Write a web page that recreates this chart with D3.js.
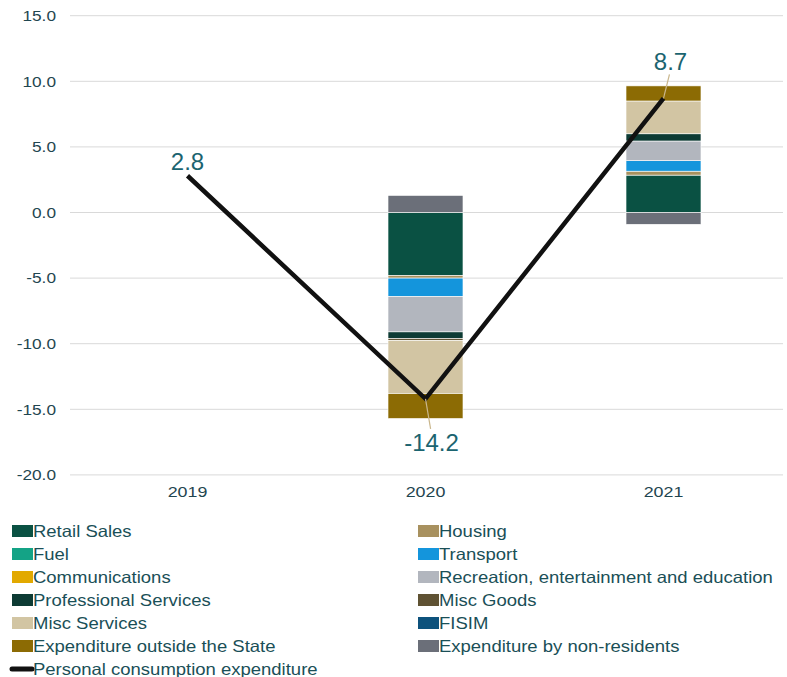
<!DOCTYPE html>
<html>
<head>
<meta charset="utf-8">
<script src="https://cdn.jsdelivr.net/npm/d3@7"></script>
<style>
  html, body { margin: 0; padding: 0; background: #fff; }
  svg { display: block; font-family: "Liberation Sans", Arial, sans-serif; }
</style>
</head>
<body>
<svg id="chart" width="787" height="677"></svg>
<script>
// Contributions to growth in personal consumption expenditure (percentage points)
const years = ["2019", "2020", "2021"];
const yTicks = [15, 10, 5, 0, -5, -10, -15, -20];

const retailSales        = [null, -4.8, 2.85];
const housing            = [null, -0.2, 0.3];
const fuel               = [null, 0, 0];
const transport          = [null, -1.4, 0.8];
const communications     = [null, 0, 0];
const recreation         = [null, -2.7, 1.5];
const professional       = [null, -0.5, 0.55];
const miscGoods          = [null, -0.15, 0];
const miscServices       = [null, -4.05, 2.5];
const fisim              = [null, 0, 0];
const outsideState       = [null, -1.9, 1.15];
const nonResidents       = [null, 1.3, -0.9];
const pce                = [2.8, -14.2, 8.7];

const seriesNames = [
  "Retail Sales", "Housing", "Fuel", "Transport", "Communications",
  "Recreation, entertainment and education", "Professional Services", "Misc Goods",
  "Misc Services", "FISIM", "Expenditure outside the State", "Expenditure by non-residents"
];
const seriesValues = [
  retailSales, housing, fuel, transport, communications, recreation,
  professional, miscGoods, miscServices, fisim, outsideState, nonResidents
];
const seriesColors = [
  "#0a5143", "#a8915f", "#14a386", "#1495dc", "#e2a900", "#b2b6be",
  "#0d3b34", "#5f5233", "#d2c5a3", "#0d527c", "#8c6b04", "#6b6f79"
];
const lineName = "Personal consumption expenditure";

const svg = d3.select("#chart");
const textColor = "#1f4650";

// one decimal, plain hyphen for negatives
const fmt = v => d3.format(".1f")(v).replace("\u2212", "-");

const x = d3.scaleBand().domain(years).range([68.5, 782.5]).padding(0);
const y = d3.scaleLinear().domain([-20, 15]).range([474.9, 15.7]);
const barWidth = x.bandwidth() * 0.315;
const cx = d => x(d) + x.bandwidth() / 2;

// slight horizontal stretch of the small text
function stretch(sel, k) {
  sel.each(function () {
    const w = this.getComputedTextLength();
    d3.select(this).attr("textLength", w * k).attr("lengthAdjust", "spacingAndGlyphs");
  });
}

// gridlines
svg.append("g")
  .selectAll("line")
  .data(yTicks)
  .join("line")
  .attr("x1", 70).attr("x2", 783)
  .attr("y1", d => y(d)).attr("y2", d => y(d))
  .attr("stroke", "#d9d9d9").attr("stroke-width", 1);

// y axis labels
const yAxis = svg.append("g")
  .attr("transform", "translate(56,0)")
  .call(d3.axisLeft(y).tickValues(yTicks).tickFormat(fmt).tickSize(0).tickPadding(0));
yAxis.select(".domain").remove();
yAxis.selectAll("text")
  .attr("fill", textColor).attr("font-size", 15).attr("font-family", "Liberation Sans, Arial, sans-serif")
  .call(stretch, 1.15);

// x axis labels
const xAxis = svg.append("g")
  .attr("transform", "translate(0,486)")
  .call(d3.axisBottom(x).tickSize(0).tickPadding(0));
xAxis.select(".domain").remove();
xAxis.selectAll("text")
  .attr("fill", textColor).attr("font-size", 15.5).attr("font-family", "Liberation Sans, Arial, sans-serif")
  .call(stretch, 1.15);

// stacked bars (positive and negative stacked separately)
const table = years.map((yr, i) => {
  const row = { year: yr };
  seriesNames.forEach((n, j) => { row[n] = seriesValues[j][i] || 0; });
  return row;
});
const stack = d3.stack()
  .keys(seriesNames)
  .order(d3.stackOrderNone)
  .offset(d3.stackOffsetDiverging);
const stacked = stack(table);

svg.append("g")
  .selectAll("g")
  .data(stacked)
  .join("g")
  .attr("fill", (d, i) => seriesColors[i])
  .selectAll("rect")
  .data(d => d.filter(p => p[1] - p[0] !== 0))
  .join("rect")
  .attr("x", d => cx(d.data.year) - barWidth / 2)
  .attr("width", barWidth)
  .attr("y", d => y(Math.max(d[0], d[1])))
  .attr("height", d => Math.abs(y(d[0]) - y(d[1])))
  .attr("stroke", "#ffffff").attr("stroke-width", 0.6);

// line series
const pts = years.map((yr, i) => ({ year: yr, v: pce[i] }));
svg.append("path")
  .datum(pts)
  .attr("fill", "none")
  .attr("stroke", "#111111")
  .attr("stroke-width", 4.5)
  .attr("stroke-linejoin", "miter")
  .attr("d", d3.line().x(d => cx(d.year)).y(d => y(d.v)));

// value labels with leader lines
const labelOffsets = [
  { dx: 0, dy: -6, leader: false },
  { dx: 6, dy: 52, leader: true },
  { dx: 7, dy: -28, leader: true }
];
pts.forEach((p, i) => {
  const o = labelOffsets[i];
  const px = cx(p.year), py = y(p.v);
  if (o.leader) {
    const sign = o.dy > 0 ? 1 : -1;
    svg.append("line")
      .attr("x1", px).attr("y1", py)
      .attr("x2", px + o.dx * 0.85).attr("y2", py + o.dy - (sign > 0 ? 22 : -4))
      .attr("stroke", "#c9b68c").attr("stroke-width", 1.2);
  }
  svg.append("text")
    .attr("x", px + o.dx).attr("y", py + o.dy)
    .attr("text-anchor", "middle")
    .attr("font-size", 24)
    .attr("fill", "#1b6470")
    .text(fmt(p.v));
});

// legend: two columns, row-major order
const legendItems = seriesNames.map((n, i) => ({ name: n, color: seriesColors[i], type: "bar" }));
legendItems.push({ name: lineName, color: "#111111", type: "line" });
const lg = svg.append("g");
const items = lg.selectAll("g")
  .data(legendItems)
  .join("g")
  .attr("transform", (d, i) => {
    const col = d.type === "line" ? 0 : i % 2;
    const row = d.type === "line" ? 6 : Math.floor(i / 2);
    return `translate(${col === 0 ? 12 : 418},${531 + row * 23})`;
  });
items.filter(d => d.type === "bar").append("rect")
  .attr("x", 0).attr("y", -6).attr("width", 21).attr("height", 12)
  .attr("fill", d => d.color);
items.filter(d => d.type === "line").append("line")
  .attr("x1", 0).attr("x2", 20).attr("y1", 0).attr("y2", 0)
  .attr("stroke", d => d.color).attr("stroke-width", 5).attr("stroke-linecap", "round");
items.append("text")
  .attr("x", 21).attr("y", 0).attr("dy", "0.36em")
  .attr("font-size", 16.5)
  .attr("fill", "#1a4f57")
  .text(d => d.name)
  .call(stretch, 1.12);
</script>
</body>
</html>
